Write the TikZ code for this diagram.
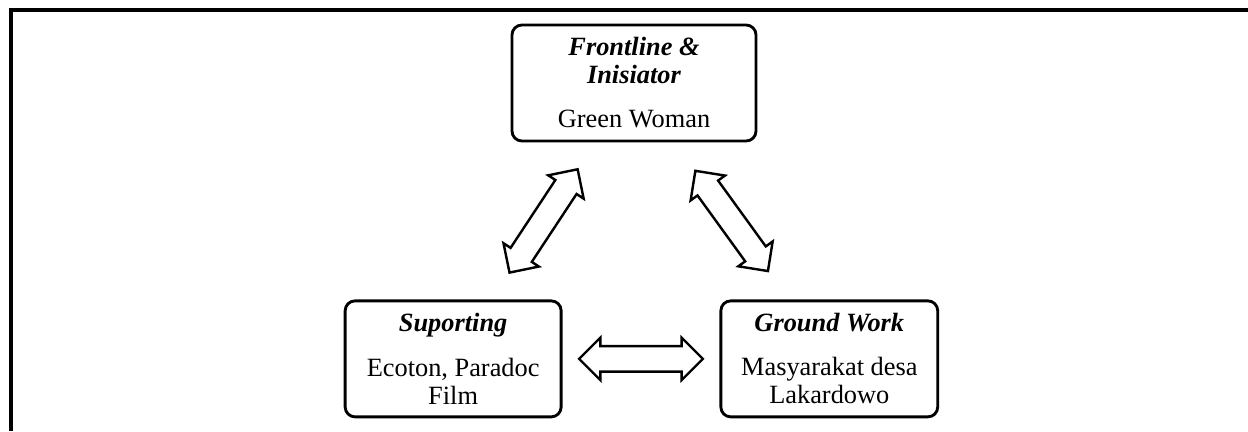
\documentclass[tikz,border=0pt]{standalone}
\usepackage{fontspec}
\setmainfont{Liberation Serif}
\usepackage{tikz}
\usetikzlibrary{positioning, shapes.arrows, calc}

\begin{document}
\begin{tikzpicture}[
		box/.style={draw, rectangle, rounded corners=4.5pt, line width=1.3pt, align=center, minimum height=1.856cm, inner sep=0pt, font=\fontsize{12pt}{12.75pt}\selectfont},
		link/.style={draw, double arrow, line width=1.1pt, minimum height=1.98cm, inner xsep=0pt, inner ysep=0.184cm, double arrow head extend=0.136cm}
	]

	% Frame
	\useasboundingbox (0,0) rectangle (19.968,-6.896);
	\draw[line width=1.8pt] (0.176,-6.896) -- (0.176,-0.16) -- (19.968,-0.16);

	% Nodes
	\node[box, minimum width=3.904cm] (front) at (10.144,-1.328) {\textbf{\textit{Frontline \&}}\\\textbf{\textit{Inisiator}}\\[7.3pt]Green Woman};

	\node[box, minimum width=3.456cm, below left=2.512cm and -0.832cm of front] (support) {\textbf{\textit{Suporting}}\\[7.3pt]Ecoton, Paradoc\\Film};
	\node[box, minimum width=3.47cm, below right=2.512cm and -0.608cm of front] (ground) {\textbf{\textit{Ground Work}}\\[7.3pt]Masyarakat desa\\Lakardowo};

	% Arrows
	\node[link, rotate=56.6] (linkL) at ($(support.north)!0.5!(front.south)$) {};
	\node[link, rotate=-54.1] (linkR) at ($(ground.north)!0.5!(front.south)$) {};
	\node[link] (linkB) at ($(support.east)!0.5!(ground.west)$) {};

\end{tikzpicture}
\end{document}
